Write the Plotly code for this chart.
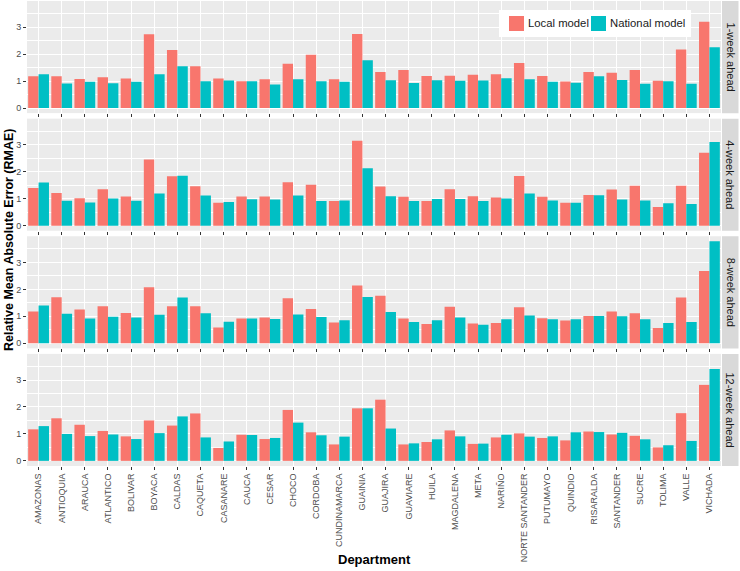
import plotly.graph_objects as go
from plotly.subplots import make_subplots

departments = ["AMAZONAS", "ANTIOQUIA", "ARAUCA", "ATLANTICO", "BOLIVAR", "BOYACA", "CALDAS",
               "CAQUETA", "CASANARE", "CAUCA", "CESAR", "CHOCO", "CORDOBA", "CUNDINAMARCA",
               "GUAINIA", "GUAJIRA", "GUAVIARE", "HUILA", "MAGDALENA", "META", "NARIÑO",
               "NORTE SANTANDER", "PUTUMAYO", "QUINDIO", "RISARALDA", "SANTANDER", "SUCRE",
               "TOLIMA", "VALLE", "VICHADA"]

horizons = ["1-week ahead", "4-week ahead", "8-week ahead", "12-week ahead"]
series_names = ["Local model", "National model"]

local_1w = [1.18, 1.18, 1.08, 1.14, 1.09, 2.74, 2.15, 1.55, 1.09, 0.99, 1.07, 1.64, 1.98, 1.07,
            2.75, 1.34, 1.41, 1.19, 1.20, 1.23, 1.25, 1.67, 1.19, 0.98, 1.34, 1.31, 1.41, 1.01, 2.17, 3.20]
national_1w = [1.25, 0.91, 0.97, 0.92, 0.97, 1.25, 1.55, 0.99, 1.02, 0.99, 0.87, 1.07, 0.99, 0.97,
               1.77, 1.03, 0.93, 1.03, 1.01, 1.02, 1.10, 1.07, 0.97, 0.94, 1.18, 1.04, 0.90, 0.99, 0.90, 2.25]

local_4w = [1.40, 1.21, 1.02, 1.35, 1.08, 2.45, 1.83, 1.46, 0.85, 1.08, 1.08, 1.61, 1.52, 0.91,
            3.15, 1.45, 1.07, 0.91, 1.35, 1.09, 1.04, 1.84, 1.07, 0.85, 1.14, 1.34, 1.48, 0.69, 1.48, 2.70]
national_4w = [1.60, 0.92, 0.86, 1.01, 0.92, 1.19, 1.85, 1.12, 0.88, 0.98, 0.97, 1.12, 0.91, 0.93,
               2.13, 1.09, 0.91, 0.99, 0.99, 0.91, 1.01, 1.19, 0.93, 0.85, 1.13, 0.97, 0.93, 0.83, 0.80, 3.10]

local_8w = [1.18, 1.71, 1.25, 1.37, 1.12, 2.08, 1.37, 1.37, 0.58, 0.92, 0.96, 1.67, 1.27, 0.77,
            2.14, 1.76, 0.92, 0.71, 1.35, 0.73, 0.75, 1.34, 0.93, 0.84, 1.01, 1.18, 1.11, 0.57, 1.70, 2.68]
national_8w = [1.40, 1.09, 0.92, 0.98, 0.96, 1.06, 1.70, 1.11, 0.80, 0.92, 0.90, 1.07, 0.97, 0.85,
               1.72, 1.16, 0.79, 0.85, 0.96, 0.69, 0.89, 1.03, 0.89, 0.89, 1.01, 1.00, 0.89, 0.75, 0.79, 3.78]

local_12w = [1.17, 1.58, 1.34, 1.11, 0.91, 1.50, 1.31, 1.76, 0.48, 0.97, 0.81, 1.89, 1.06, 0.61,
             1.95, 2.27, 0.61, 0.70, 1.13, 0.63, 0.87, 1.02, 0.85, 0.76, 1.09, 0.98, 0.93, 0.50, 1.77, 2.82]
national_12w = [1.29, 1.00, 0.92, 0.98, 0.81, 1.03, 1.65, 0.87, 0.72, 0.96, 0.85, 1.42, 0.95, 0.90,
                1.95, 1.20, 0.65, 0.80, 0.91, 0.64, 0.97, 0.90, 0.91, 1.06, 1.07, 1.04, 0.80, 0.58, 0.74, 3.41]

local_series = [local_1w, local_4w, local_8w, local_12w]
national_series = [national_1w, national_4w, national_8w, national_12w]

LOCAL_COLOR = "#F8766D"
NATIONAL_COLOR = "#00BFC4"
FONT = "Liberation Sans, Arial, sans-serif"

W, H = 740, 571
ML, MR, MT, MB = 27, 19, 1, 105
PLOT_H = H - MT - MB
PLOT_W = W - ML - MR


def px_x(p):
    return (p - ML) / PLOT_W


def px_y(p):
    return 1 - (p - MT) / PLOT_H


fig = make_subplots(rows=4, cols=1, shared_xaxes=True, vertical_spacing=5.5 / PLOT_H)

for i in range(4):
    fig.add_trace(go.Bar(x=departments, y=local_series[i], name=series_names[0],
                         marker=dict(color=LOCAL_COLOR, line=dict(width=0)),
                         showlegend=False), row=i + 1, col=1)
    fig.add_trace(go.Bar(x=departments, y=national_series[i], name=series_names[1],
                         marker=dict(color=NATIONAL_COLOR, line=dict(width=0)),
                         showlegend=False), row=i + 1, col=1)

fig.update_layout(
    width=W, height=H,
    margin=dict(l=ML, r=MR, t=MT, b=MB, autoexpand=False),
    paper_bgcolor="white",
    plot_bgcolor="#EBEBEB",
    barmode="group", bargap=0.1, bargroupgap=0,
    font=dict(family=FONT, color="#4D4D4D"),
    showlegend=False,
)

for i in range(4):
    fig.update_yaxes(range=[-0.19, 3.97], tickvals=[0, 1, 2, 3], ticks="outside", ticklen=3,
                     tickcolor="#333333", tickfont=dict(size=9, color="#4D4D4D"),
                     showgrid=True, gridcolor="white", gridwidth=1.1, zeroline=False,
                     minor=dict(tickvals=[0.5, 1.5, 2.5, 3.5], showgrid=True, gridcolor="white",
                                gridwidth=0.5, ticks=""),
                     showline=False, row=i + 1, col=1)
    fig.update_xaxes(showgrid=True, gridcolor="white", gridwidth=1.1, ticks="outside",
                     ticklen=3, tickcolor="#333333", showline=False, zeroline=False,
                     row=i + 1, col=1)

fig.update_xaxes(tickangle=-90, tickfont=dict(size=9, color="#4D4D4D"), row=4, col=1)

# facet strips
for i, lab in enumerate(horizons):
    ya = fig.layout["yaxis" if i == 0 else f"yaxis{i+1}"]
    d0, d1 = ya.domain
    fig.add_shape(type="rect", xref="paper", yref="paper",
                  x0=1.0 + 1 / PLOT_W, x1=1.0 + 17.5 / PLOT_W, y0=d0, y1=d1,
                  fillcolor="#D9D9D9", line=dict(width=0), layer="below")
    fig.add_annotation(text=lab, xref="paper", yref="paper",
                       x=1.0 + 9.5 / PLOT_W, y=(d0 + d1) / 2, textangle=90,
                       showarrow=False, font=dict(size=11, color="#1A1A1A"),
                       xanchor="center", yanchor="middle")

# legend box (inside top panel, top-right)
fig.add_shape(type="rect", xref="paper", yref="paper",
              x0=px_x(499), x1=px_x(691), y0=px_y(37), y1=px_y(10),
              fillcolor="white", line=dict(width=0), layer="above")
for key_x, col, name in [(509, LOCAL_COLOR, series_names[0]), (591, NATIONAL_COLOR, series_names[1])]:
    fig.add_shape(type="rect", xref="paper", yref="paper",
                  x0=px_x(key_x), x1=px_x(key_x + 15), y0=px_y(31), y1=px_y(16),
                  fillcolor=col, line=dict(width=0), layer="above")
    fig.add_annotation(text=name, xref="paper", yref="paper",
                       x=px_x(key_x + 17), y=px_y(23.5), showarrow=False,
                       xanchor="left", yanchor="middle",
                       font=dict(size=11.3, color="#1A1A1A"))

fig.add_annotation(text="<b>Relative Mean Absolute Error (RMAE)</b>", xref="paper", yref="paper",
                   x=px_x(9), y=px_y(240), textangle=-90, showarrow=False,
                   font=dict(size=12.5, color="black"), xanchor="center", yanchor="middle")
fig.add_annotation(text="<b>Department</b>", xref="paper", yref="paper",
                   x=0.5, y=px_y(559), showarrow=False,
                   font=dict(size=13, color="black"), xanchor="center", yanchor="middle")

fig.write_html("out.html", config={"displayModeBar": False},
               post_script="document.body.style.margin='0';")
